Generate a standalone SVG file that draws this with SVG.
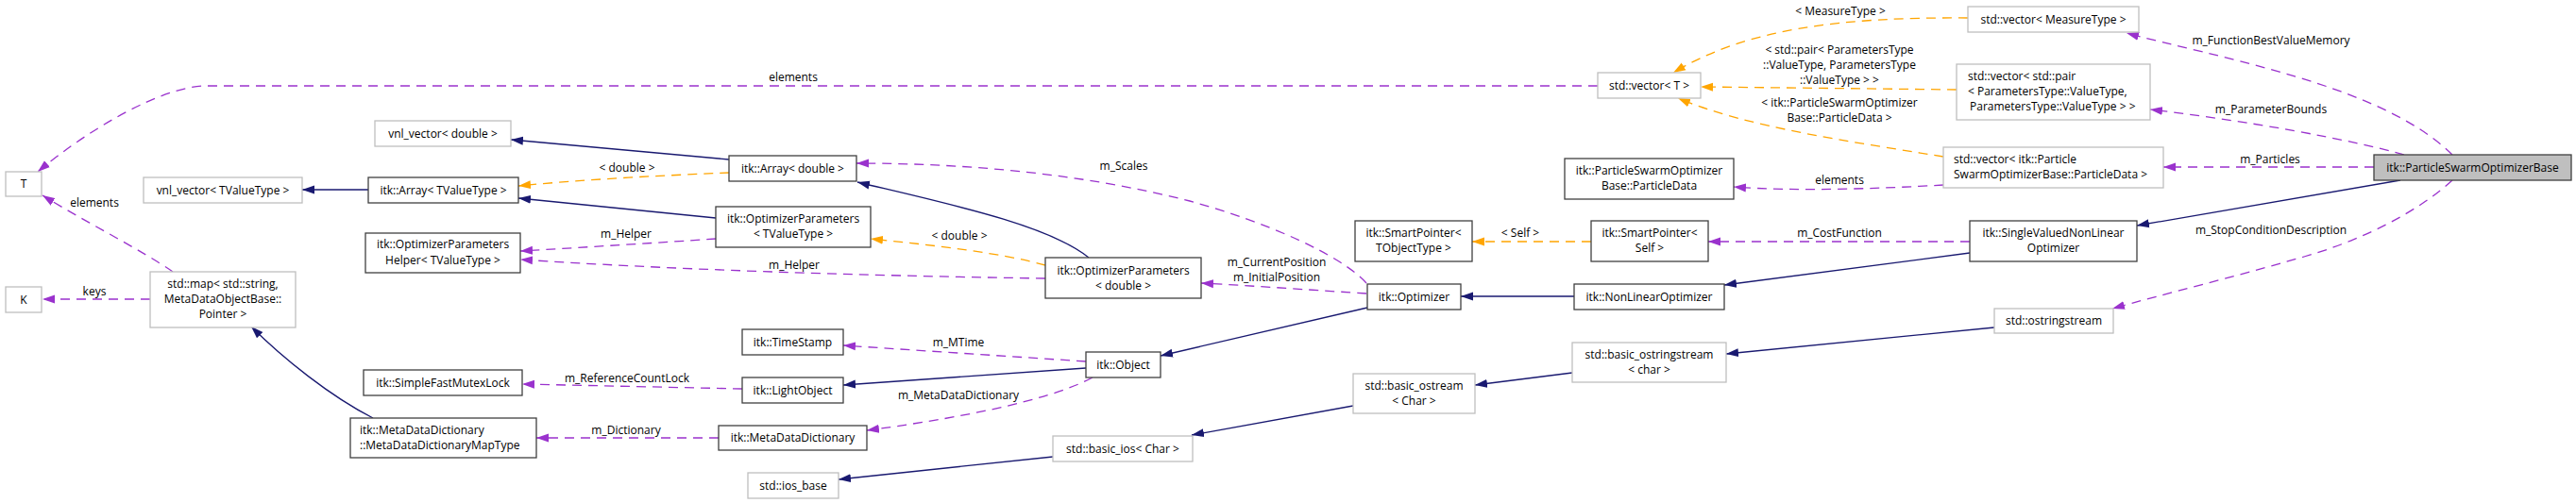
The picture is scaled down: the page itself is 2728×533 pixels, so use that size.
<svg xmlns="http://www.w3.org/2000/svg" width="2728" height="533" viewBox="0 0 2728 533">
<style>
text{font-family:"Open Sans","Noto Sans",sans-serif;font-size:12px;fill:#000}
.c{text-anchor:middle}
.n rect{fill:#fff;stroke:#404040;stroke-width:1.3}
.g rect{fill:#fff;stroke:#bfbfbf;stroke-width:1.3}
.r rect{fill:#bfbfbf;stroke:#404040;stroke-width:1.3}
.e path{fill:none;stroke-width:1.3}
.inh{stroke:#191970;marker-end:url(#ab)}
.use{stroke:#9a32cd;stroke-dasharray:10,7;marker-end:url(#ap)}
.tpl{stroke:#ffa500;stroke-dasharray:10,7;marker-end:url(#ao)}
</style>
<defs>
<marker id="ab" markerUnits="userSpaceOnUse" markerWidth="14" markerHeight="10" refX="13" refY="5" orient="auto"><path d="M0,0.5 L13,5 L0,9.5 z" fill="#191970" stroke="none"/></marker>
<marker id="ap" markerUnits="userSpaceOnUse" markerWidth="14" markerHeight="10" refX="13" refY="5" orient="auto"><path d="M0,0.5 L13,5 L0,9.5 z" fill="#9a32cd" stroke="none"/></marker>
<marker id="ao" markerUnits="userSpaceOnUse" markerWidth="14" markerHeight="10" refX="13" refY="5" orient="auto"><path d="M0,0.5 L13,5 L0,9.5 z" fill="#ffa500" stroke="none"/></marker>
</defs>
<rect width="2728" height="533" fill="#fff"/>
<g id="connectors" class="e">
<path class="use" d="M2597,164 C2555,122 2480,95 2420,78 C2360,60 2300,48 2252,35"/>
<path class="use" d="M2546,164 C2490,148 2380,128 2277,116"/>
<path class="use" d="M2514,177 L2291,177"/>
<path class="inh" d="M2542,191 L2263,239"/>
<path class="use" d="M2597,191 C2560,225 2500,255 2440,272 C2360,295 2290,312 2237,327"/>
<path class="tpl" d="M2084,19 C1950,18 1850,30 1772,77"/>
<path class="tpl" d="M2072,95 L1801,92"/>
<path class="tpl" d="M2058,166 C1960,150 1850,135 1777,104"/>
<path class="use" d="M2058,196 C1990,200 1900,203 1836,198"/>
<path class="use" d="M1692,91 L219,91 C170,91 90,140 40,182"/>
<path class="inh" d="M2086,268 L1826,302"/>
<path class="use" d="M2086,256 L1809,256"/>
<path class="tpl" d="M1685,256 L1559,256"/>
<path class="inh" d="M1667,314 L1547,314"/>
<path class="use" d="M1447,300 C1420,270 1340,235 1260,213 C1150,185 1030,173 907,173"/>
<path class="use" d="M1447,311 C1400,308 1330,303 1272,300"/>
<path class="inh" d="M1448,326 L1229,377"/>
<path class="inh" d="M1153,273 C1110,238 1000,215 908,193"/>
<path class="tpl" d="M1107,281 C1060,268 990,260 922,253"/>
<path class="use" d="M1107,295 C900,292 700,285 551,275"/>
<path class="use" d="M758,253 C700,257 620,262 551,266"/>
<path class="inh" d="M758,231 L549,210"/>
<path class="tpl" d="M772,183 C700,186 620,190 549,197"/>
<path class="inh" d="M772,169 L541,148"/>
<path class="inh" d="M390,201 L320,201"/>
<path class="use" d="M183,288 C150,265 90,235 45,207"/>
<path class="use" d="M159,317 L45,317"/>
<path class="inh" d="M395,443 C350,420 300,380 266,346"/>
<path class="use" d="M761,464 L568,464"/>
<path class="use" d="M786,412 L553,407"/>
<path class="inh" d="M1150,390 L893,408"/>
<path class="use" d="M1150,383 L893,366"/>
<path class="use" d="M1157,400 C1120,420 1040,440 918,456"/>
<path class="inh" d="M1665,395 L1562,408"/>
<path class="inh" d="M1433,430 L1262,461"/>
<path class="inh" d="M1115,484 L888,508"/>
<path class="inh" d="M2112,347 L1828,375"/>
<text class="c" x="2405" y="47">m_FunctionBestValueMemory</text>
<text class="c" x="2405" y="120">m_ParameterBounds</text>
<text class="c" x="2404" y="173">m_Particles</text>
<text class="c" x="2405" y="248">m_StopConditionDescription</text>
<text class="c" x="1949" y="16">&lt; MeasureType &gt;</text>
<text class="c" x="1948" y="57">&lt; std::pair&lt; ParametersType</text>
<text class="c" x="1948" y="73">::ValueType, ParametersType</text>
<text class="c" x="1948" y="89">::ValueType &gt; &gt;</text>
<text class="c" x="1948" y="113">&lt; itk::ParticleSwarmOptimizer</text>
<text class="c" x="1948" y="129">Base::ParticleData &gt;</text>
<text class="c" x="1948" y="195">elements</text>
<text class="c" x="840" y="86">elements</text>
<text class="c" x="1948" y="251">m_CostFunction</text>
<text class="c" x="1610" y="251">&lt; Self &gt;</text>
<text class="c" x="1190" y="180">m_Scales</text>
<text class="c" x="1352" y="282">m_CurrentPosition</text>
<text class="c" x="1352" y="298">m_InitialPosition</text>
<text class="c" x="1016" y="254">&lt; double &gt;</text>
<text class="c" x="841" y="285">m_Helper</text>
<text class="c" x="663" y="252">m_Helper</text>
<text class="c" x="664" y="182">&lt; double &gt;</text>
<text class="c" x="100" y="219">elements</text>
<text class="c" x="100" y="313">keys</text>
<text class="c" x="663" y="460">m_Dictionary</text>
<text class="c" x="664" y="405">m_ReferenceCountLock</text>
<text class="c" x="1015" y="367">m_MTime</text>
<text class="c" x="1015" y="423">m_MetaDataDictionary</text>
</g>
<g id="n_T" class="g"><rect x="6" y="182" width="38" height="26"/><text class="c" x="25" y="199">T</text></g>
<g id="n_K" class="g"><rect x="6" y="304" width="38" height="27"/><text class="c" x="25" y="322">K</text></g>
<g id="n_vnl_double" class="g"><rect x="397" y="128" width="144" height="27"/><text class="c" x="469" y="146">vnl_vector&lt; double &gt;</text></g>
<g id="n_vnl_tv" class="g"><rect x="152" y="188" width="168" height="27"/><text class="c" x="236" y="206">vnl_vector&lt; TValueType &gt;</text></g>
<g id="n_array_tv" class="n"><rect x="390" y="188" width="159" height="27"/><text class="c" x="469.5" y="206">itk::Array&lt; TValueType &gt;</text></g>
<g id="n_array_double" class="n"><rect x="772" y="165" width="135" height="27"/><text class="c" x="839.5" y="183">itk::Array&lt; double &gt;</text></g>
<g id="n_optparams_tv" class="n"><rect x="758" y="219" width="164" height="43"/><text class="c" x="840" y="236">itk::OptimizerParameters</text><text class="c" x="840" y="252">&lt; TValueType &gt;</text></g>
<g id="n_helper" class="n"><rect x="387" y="247" width="164" height="42"/><text class="c" x="469" y="263">itk::OptimizerParameters</text><text class="c" x="469" y="280">Helper&lt; TValueType &gt;</text></g>
<g id="n_map" class="g"><rect x="159" y="288" width="154" height="59"/><text class="c" x="236" y="305">std::map&lt; std::string,</text><text class="c" x="236" y="321">MetaDataObjectBase::</text><text class="c" x="236" y="337">Pointer &gt;</text></g>
<g id="n_optparams_d" class="n"><rect x="1107" y="273" width="165" height="43"/><text class="c" x="1189.5" y="291">itk::OptimizerParameters</text><text class="c" x="1189.5" y="307">&lt; double &gt;</text></g>
<g id="n_timestamp" class="n"><rect x="786" y="349" width="107" height="27"/><text class="c" x="839.5" y="367">itk::TimeStamp</text></g>
<g id="n_mutex" class="n"><rect x="385" y="392" width="168" height="27"/><text class="c" x="469" y="410">itk::SimpleFastMutexLock</text></g>
<g id="n_lightobject" class="n"><rect x="786" y="400" width="107" height="27"/><text class="c" x="839.5" y="418">itk::LightObject</text></g>
<g id="n_object" class="n"><rect x="1150" y="373" width="79" height="27"/><text class="c" x="1189.5" y="391">itk::Object</text></g>
<g id="n_maptype" class="n"><rect x="371" y="443" width="197" height="42"/><text x="381" y="460">itk::MetaDataDictionary</text><text x="381" y="476">::MetaDataDictionaryMapType</text></g>
<g id="n_mdd" class="n"><rect x="761" y="451" width="157" height="26"/><text class="c" x="839.5" y="468">itk::MetaDataDictionary</text></g>
<g id="n_ios_base" class="g"><rect x="792" y="501" width="96" height="27"/><text class="c" x="840" y="519">std::ios_base</text></g>
<g id="n_basic_ios" class="g"><rect x="1115" y="462" width="148" height="27"/><text class="c" x="1189" y="480">std::basic_ios&lt; Char &gt;</text></g>
<g id="n_ostream" class="g"><rect x="1433" y="396" width="129" height="42"/><text class="c" x="1497.5" y="413">std::basic_ostream</text><text class="c" x="1497.5" y="429">&lt; Char &gt;</text></g>
<g id="n_optimizer" class="n"><rect x="1448" y="301" width="99" height="27"/><text class="c" x="1497.5" y="319">itk::Optimizer</text></g>
<g id="n_nonlinear" class="n"><rect x="1667" y="301" width="159" height="27"/><text class="c" x="1746.5" y="319">itk::NonLinearOptimizer</text></g>
<g id="n_sp_tobj" class="n"><rect x="1435" y="234" width="124" height="43"/><text class="c" x="1497" y="251">itk::SmartPointer&lt;</text><text class="c" x="1497" y="267">TObjectType &gt;</text></g>
<g id="n_sp_self" class="n"><rect x="1685" y="234" width="124" height="43"/><text class="c" x="1747" y="251">itk::SmartPointer&lt;</text><text class="c" x="1747" y="267">Self &gt;</text></g>
<g id="n_particledata" class="n"><rect x="1657" y="168" width="179" height="43"/><text class="c" x="1746.5" y="185">itk::ParticleSwarmOptimizer</text><text class="c" x="1746.5" y="201">Base::ParticleData</text></g>
<g id="n_vector_t" class="g"><rect x="1692" y="77" width="109" height="27"/><text class="c" x="1746.5" y="95">std::vector&lt; T &gt;</text></g>
<g id="n_basic_ostringstream" class="g"><rect x="1665" y="363" width="163" height="42"/><text class="c" x="1746.5" y="380">std::basic_ostringstream</text><text class="c" x="1746.5" y="396">&lt; char &gt;</text></g>
<g id="n_vec_measure" class="g"><rect x="2084" y="7" width="181" height="27"/><text class="c" x="2174.5" y="25">std::vector&lt; MeasureType &gt;</text></g>
<g id="n_vec_pair" class="g"><rect x="2072" y="68" width="205" height="59"/><text x="2084" y="85">std::vector&lt; std::pair</text><text x="2084" y="101">&lt; ParametersType::ValueType,</text><text x="2086" y="117">ParametersType::ValueType &gt; &gt;</text></g>
<g id="n_vec_particle" class="g"><rect x="2058" y="156" width="233" height="43"/><text x="2069" y="173">std::vector&lt; itk::Particle</text><text x="2069" y="189">SwarmOptimizerBase::ParticleData &gt;</text></g>
<g id="n_svnlo" class="n"><rect x="2086" y="234" width="177" height="43"/><text class="c" x="2174.5" y="251">itk::SingleValuedNonLinear</text><text class="c" x="2174.5" y="267">Optimizer</text></g>
<g id="n_ostringstream" class="g"><rect x="2112" y="327" width="126" height="26"/><text class="c" x="2175" y="344">std::ostringstream</text></g>
<g id="n_psob" class="r"><rect x="2514" y="164" width="209" height="27"/><text class="c" x="2618.5" y="182">itk::ParticleSwarmOptimizerBase</text></g>
</svg>
